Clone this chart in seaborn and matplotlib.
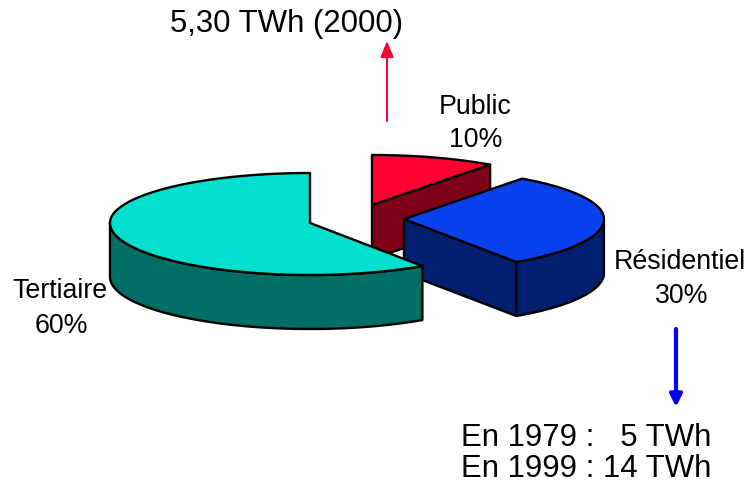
import numpy as np
import pandas as pd
import matplotlib
matplotlib.use('Agg')
import matplotlib.pyplot as plt
from matplotlib.patches import Polygon
import seaborn as sns

# parts de la consommation
sectors = ['Public', 'Résidentiel', 'Tertiaire']
shares = [10, 30, 60]
share_labels = ['10%', '30%', '60%']
top_colors = ['#FF0033', '#0A41EE', '#00E0CC']
side_colors = ['#7F0019', '#001F6E', '#006E64']

# apex of each slice on the page, pixels
centers_x = [372, 404, 310]
centers_y = [205, 219, 223]

radius_x = 200
depth = 54

sns.set_theme(style='white')
plt.rcParams['font.family'] = ['Liberation Sans', 'DejaVu Sans']

table = pd.DataFrame({'sector': sectors, 'share': shares})
table['end'] = 90 - 3.6 * table['share'].cumsum()
table['start'] = table['end'] + 3.6 * table['share']


def rim(angle, cx, cy):
    # point of the tilted disc, the front is a bit flattened like in the old 3D pies
    t = np.radians(angle)
    t = t - np.radians(1.0) * (1 - np.sin(t))
    ry = np.where(np.sin(t) > 0, 50, 52)
    return cx + radius_x * np.cos(t), cy - ry * np.sin(t)


fig = plt.figure(figsize=(7.47, 4.83), dpi=100)
ax = fig.add_axes([0, 0, 1, 1])
ax.set_xlim(0, 747)
ax.set_ylim(483, 0)
ax.axis('off')

for i, row in table.iterrows():
    cx, cy = centers_x[i], centers_y[i]
    angles = np.linspace(row['start'], row['end'], 120)
    x, y = rim(angles, cx, cy)
    line = {'edgecolor': 'black', 'linewidth': 1.7, 'joinstyle': 'round'}

    # cut face on the right hand edge, only when it looks at us
    if row['sector'] in ('Public', 'Résidentiel'):
        ex, ey = rim(row['end'], cx, cy)
        face = [(cx, cy), (ex, ey), (ex, ey + depth), (cx, cy + depth)]
        ax.add_patch(Polygon(face, facecolor=side_colors[i], **line))

    # outer wall, front part of the rim
    front = np.sin(np.radians(angles)) <= 0
    if front.any():
        fx, fy = x[front], y[front]
        wall = np.column_stack([np.r_[fx, fx[::-1]], np.r_[fy, fy[::-1] + depth]])
        ax.add_patch(Polygon(wall, facecolor=side_colors[i], **line))

    top = np.column_stack([np.r_[cx, x], np.r_[cy, y]])
    ax.add_patch(Polygon(top, facecolor=top_colors[i], **line))

# textes
label_size = 19.3
big_size = 22.4
ax.text(475, 107, 'Public', ha='center', va='center', fontsize=label_size, color='black')
ax.text(476, 140, share_labels[0], ha='center', va='center', fontsize=label_size, color='black')
ax.text(680, 262, 'Résidentiel', ha='center', va='center', fontsize=label_size, color='black')
ax.text(682, 296, share_labels[1], ha='center', va='center', fontsize=label_size, color='black')
ax.text(60, 291, 'Tertiaire', ha='center', va='center', fontsize=label_size, color='black')
ax.text(61, 326, share_labels[2], ha='center', va='center', fontsize=label_size, color='black')

ax.text(287, 24, '5,30 TWh (2000)', ha='center', va='center', fontsize=big_size, color='black')
ax.text(461, 438, 'En 1979 :   5 TWh', ha='left', va='center', fontsize=big_size, color='black')
ax.text(461, 469, 'En 1999 : 14 TWh', ha='left', va='center', fontsize=big_size, color='black')

# fleches
ax.annotate('', xy=(387, 41), xytext=(387, 121),
            arrowprops=dict(arrowstyle='-|>,head_length=0.8,head_width=0.33', color='#FF0033',
                            lw=1.5, shrinkA=0, shrinkB=0))
ax.annotate('', xy=(676, 407), xytext=(676, 329),
            arrowprops=dict(arrowstyle='-|>,head_length=0.6,head_width=0.3', color='#0000FF',
                            lw=3, shrinkA=0, shrinkB=0))

fig.savefig('out.png', dpi=100, facecolor='white')
